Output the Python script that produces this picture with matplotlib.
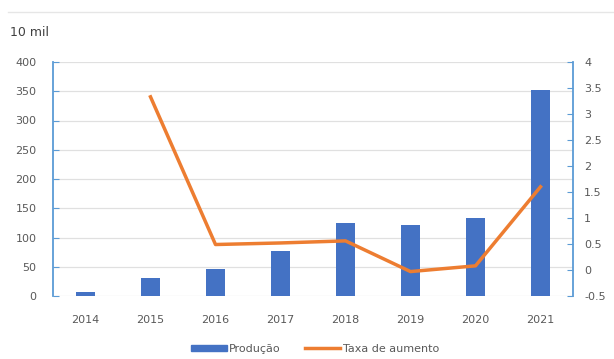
import matplotlib.pyplot as plt
from matplotlib.lines import Line2D

years = ['2014', '2015', '2016', '2017', '2018', '2019', '2020', '2021']
producao = [7, 31, 47, 77, 125, 122, 133, 352]
taxa_anos = ['2015', '2016', '2017', '2018', '2019', '2020', '2021']
taxa = [3.33, 0.49, 0.52, 0.56, -0.03, 0.08, 1.6]

bar_color = '#4472c4'
line_color = '#ed7d31'
spine_color = '#5b9bd5'
text_color = '#595959'

fig = plt.figure(figsize=(6.14, 3.59), dpi=100)
ax = fig.add_axes([53 / 614, 1 - 296 / 359, 520 / 614, 234 / 359])
ax2 = ax.twinx()

x = list(range(len(years)))
ax.bar(x, producao, width=0.3, color=bar_color, zorder=3)
ax.set_xlim(-0.5, len(years) - 0.5)
ax.set_ylim(0, 400)
ax.set_yticks(range(0, 401, 50))
ax.set_xticks(x)
ax.set_xticklabels(years)
ax.grid(axis='y', color='#e0e0e0', lw=0.9, zorder=0)
ax.set_axisbelow(True)

xt = [years.index(y) for y in taxa_anos]
ax2.plot(xt, taxa, color=line_color, lw=2.5, zorder=4)
ax2.set_ylim(-0.5, 4)
ax2.set_yticks([-0.5, 0, 0.5, 1, 1.5, 2, 2.5, 3, 3.5, 4])
ax2.set_yticklabels(['-0.5', '0', '0.5', '1', '1.5', '2', '2.5', '3', '3.5', '4'])

for a in (ax, ax2):
    for s in ('top', 'bottom'):
        a.spines[s].set_visible(False)
ax.spines['right'].set_visible(False)
ax2.spines['left'].set_visible(False)
ax.spines['left'].set_color(spine_color)
ax2.spines['right'].set_color(spine_color)
ax.spines['left'].set_linewidth(1.3)
ax2.spines['right'].set_linewidth(1.3)

ax.tick_params(axis='y', direction='in', length=4, color=spine_color,
               labelsize=8, labelcolor=text_color, pad=12)
ax2.tick_params(axis='y', direction='in', length=4, color=spine_color,
                labelsize=8, labelcolor=text_color, pad=8)
ax.tick_params(axis='x', length=0, labelsize=8, labelcolor=text_color, pad=14)

fig.text(10 / 614, 1 - 32 / 359, '10 mil', fontsize=9, color='#404040', va='center')
fig.add_artist(Line2D([8 / 614, 1], [1 - 12 / 359] * 2, color='#e6e6e6', lw=1))

handles = [plt.Rectangle((0, 0), 1, 1, color=bar_color),
           Line2D([0], [0], color=line_color, lw=2.5)]
fig.legend(handles, ['Produção', 'Taxa de aumento'], loc='center',
           bbox_to_anchor=(315 / 614, 1 - 349 / 359), ncol=2, frameon=False,
           fontsize=8, labelcolor=text_color, handlelength=3.2, handleheight=0.5,
           columnspacing=2.2, handletextpad=0.2)

fig.savefig('out.png', dpi=100, facecolor='white')
